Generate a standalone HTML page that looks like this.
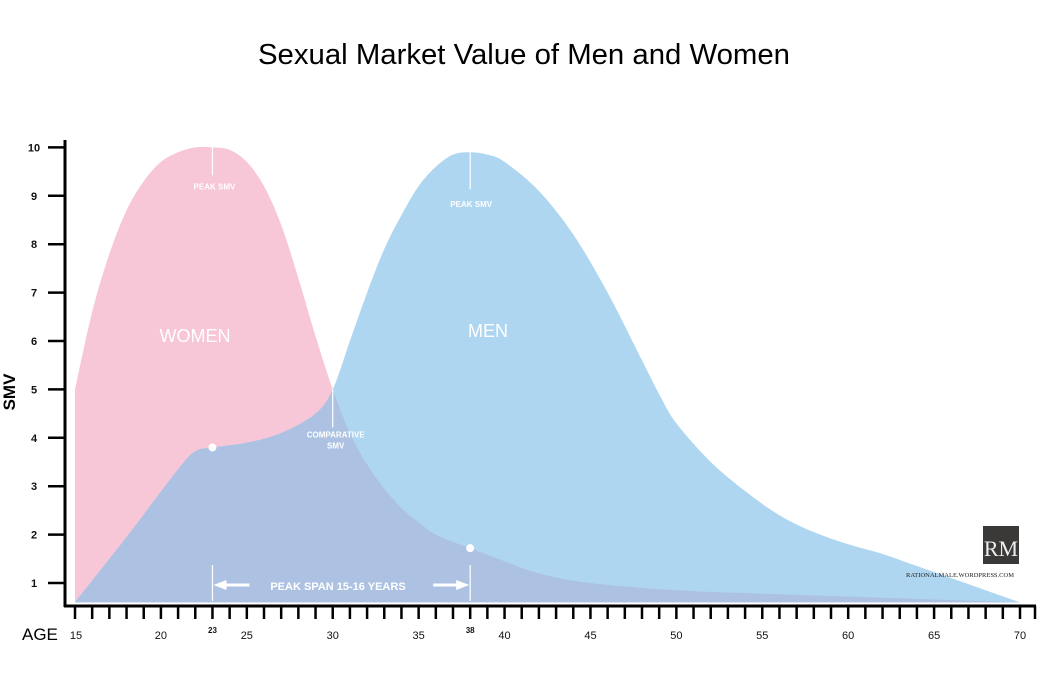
<!DOCTYPE html>
<html><head><meta charset="utf-8"><style>
html,body{margin:0;padding:0;background:#fff;}
svg{display:block;font-family:"Liberation Sans",Arial,sans-serif;}
</style></head><body>
<svg id="chart" width="1040" height="684" viewBox="0 0 1040 684">
<text x="524" y="64" text-anchor="middle" font-size="29" fill="#000" textLength="532" lengthAdjust="spacingAndGlyphs">Sexual Market Value of Men and Women</text>
<defs><clipPath id="menClip"><path id="menClipPath"/></clipPath></defs>
<g id="plot"></g>
<g id="axes"></g>
</svg>
<script>
const ages = [15,16,17,18,19,20,21,22,23,24,25,26,27,28,29,30,31,32,33,34,35,36,37,38,40,42,45,50,55,60,65,70];
const womenSMV = [5.0,6.6,7.8,8.7,9.3,9.7,9.9,10,10,9.95,9.7,9.2,8.4,7.3,6.1,5.0,4.1,3.45,2.95,2.55,2.25,2.0,1.85,1.72,1.45,1.2,1.0,0.85,0.78,0.72,0.66,0.6];
const menAges = [15,18,21,22,23,25,27,29,30,31,32,33,34,35,36,37,38,39,40,42,44,46,48,49,50,52,54,56,58,60,62,64,66,68,70];
const menSMV = [0.6,1.95,3.35,3.72,3.8,3.9,4.1,4.5,5.0,6.0,7.0,7.9,8.6,9.2,9.6,9.85,9.9,9.85,9.7,9.1,8.2,7.0,5.6,4.9,4.3,3.5,2.9,2.4,2.05,1.8,1.6,1.35,1.1,0.85,0.6];
const yTicks = [1,2,3,4,5,6,7,8,9,10];
const xLabels = [15,20,23,25,30,35,38,40,45,50,55,60,65,70];
const peakWomen = 23, peakMen = 38;
const base = 0.6;

const X = a => 75 + (a-15)*(945/55);
const Y = v => 583 - (v-1)*48.4;
const NS='http://www.w3.org/2000/svg';
function mk(t,at,parent){const e=document.createElementNS(NS,t);for(const k in at)e.setAttribute(k,at[k]);(parent||plot).appendChild(e);return e;}
const plot=document.getElementById('plot'), axes=document.getElementById('axes');

function smooth(xs,vs){
  const p=xs.map((a,i)=>[X(a),Y(vs[i])]);
  let d='M'+p[0][0]+','+p[0][1];
  for(let i=0;i<p.length-1;i++){
    const p0=p[Math.max(0,i-1)],p1=p[i],p2=p[i+1],p3=p[Math.min(p.length-1,i+2)];
    const c1=[p1[0]+(p2[0]-p0[0])/6,p1[1]+(p2[1]-p0[1])/6];
    const c2=[p2[0]-(p3[0]-p1[0])/6,p2[1]-(p3[1]-p1[1])/6];
    d+=` C${c1[0]},${c1[1]} ${c2[0]},${c2[1]} ${p2[0]},${p2[1]}`;
  }
  return d;
}
const wd='M'+X(15)+','+Y(base)+' L'+smooth(ages,womenSMV).slice(1)+' L'+X(70)+','+Y(base)+' Z';
const md=smooth(menAges,menSMV)+' L'+X(70)+','+Y(base)+' Z';
document.getElementById('menClipPath').setAttribute('d',md);

const w=mk('path',{d:wd,fill:'#f7c7d7'});


const m=mk('path',{d:md,fill:'#aed6f0'});


const o=mk('path',{d:wd,fill:'#adc2e2','clip-path':'url(#menClip)'});



const wi=ages.indexOf(peakWomen), mi=menAges.indexOf(peakMen);
mk('line',{x1:X(peakWomen),x2:X(peakWomen),y1:Y(womenSMV[wi]),y2:Y(womenSMV[wi])+28,stroke:'#fff','stroke-width':1.2});
const t1=mk('text',{x:X(peakWomen)+2,y:Y(womenSMV[wi])+42,'text-anchor':'middle','font-size':8,'font-weight':'bold',fill:'#fff'});t1.textContent='PEAK SMV';


mk('line',{x1:X(peakMen),x2:X(peakMen),y1:Y(menSMV[mi]),y2:Y(menSMV[mi])+37,stroke:'#fff','stroke-width':1.2});
const t2=mk('text',{x:X(peakMen)+1,y:Y(menSMV[mi])+55,'text-anchor':'middle','font-size':8,'font-weight':'bold',fill:'#fff'});t2.textContent='PEAK SMV';


mk('line',{x1:X(30),x2:X(30),y1:Y(5),y2:Y(5)+38,stroke:'#fff','stroke-width':1.2});
const t3=mk('text',{x:X(30)+3,y:Y(5)+48,'text-anchor':'middle','font-size':8,'font-weight':'bold',fill:'#fff'});t3.textContent='COMPARATIVE';


const t4=mk('text',{x:X(30)+3,y:Y(5)+59,'text-anchor':'middle','font-size':8,'font-weight':'bold',fill:'#fff'});t4.textContent='SMV';
const d1=mk('circle',{cx:X(peakWomen),cy:Y(menSMV[menAges.indexOf(peakWomen)]),r:4,fill:'#fff'});


const d2=mk('circle',{cx:X(peakMen),cy:Y(womenSMV[ages.indexOf(peakMen)]),r:4,fill:'#fff'});


mk('line',{x1:X(peakWomen),x2:X(peakWomen),y1:565,y2:601,stroke:'#fff','stroke-width':1.2});
mk('line',{x1:X(peakMen),x2:X(peakMen),y1:565,y2:601,stroke:'#fff','stroke-width':1.2});
mk('line',{x1:X(peakWomen)+8,x2:X(peakWomen)+37,y1:585,y2:585,stroke:'#fff','stroke-width':3});
mk('polygon',{points:`${X(peakWomen)+1},585 ${X(peakWomen)+14},580 ${X(peakWomen)+14},590`,fill:'#fff'});
mk('line',{x1:X(peakMen)-8,x2:X(peakMen)-37,y1:585,y2:585,stroke:'#fff','stroke-width':3});
mk('polygon',{points:`${X(peakMen)-1},585 ${X(peakMen)-14},580 ${X(peakMen)-14},590`,fill:'#fff'});
const t5=mk('text',{x:338,y:590,'text-anchor':'middle','font-size':11,'font-weight':'bold',fill:'#fff'});t5.textContent='PEAK SPAN 15-16 YEARS';


const t6=mk('text',{x:195,y:342,'text-anchor':'middle','font-size':18,fill:'#fff'});t6.textContent='WOMEN';


const t7=mk('text',{x:488,y:337,'text-anchor':'middle','font-size':18,fill:'#fff'});t7.textContent='MEN';



mk('line',{x1:65,x2:65,y1:140,y2:607,stroke:'#000','stroke-width':3},axes);
mk('line',{x1:64,x2:1036,y1:606,y2:606,stroke:'#000','stroke-width':3},axes);
yTicks.forEach(v=>{
  mk('line',{x1:48,x2:65,y1:Y(v),y2:Y(v),stroke:'#000','stroke-width':2.5},axes);
  const t=mk('text',{x:34,y:Y(v)+4,'text-anchor':'middle','font-size':11,'font-weight':'bold',fill:'#111'},axes);
  t.textContent=v;
  
  
});
for(let a=15;a<=70;a++){
  mk('line',{x1:X(a),x2:X(a),y1:606,y2:619,stroke:'#000','stroke-width':2.5},axes);
}
mk('line',{x1:1035,x2:1035,y1:606,y2:619,stroke:'#000','stroke-width':2.5},axes);
xLabels.forEach(a=>{
  const small=(a===peakWomen||a===peakMen);
  const t=mk('text',{x:X(a)+(a===15?1:0),y:small?633:639,'text-anchor':'middle','font-size':small?8:11,'font-weight':small?'bold':'normal',fill:'#111'},axes);
  t.textContent=a;
  
  
});
const ax=mk('text',{x:22,y:640,'font-size':17,fill:'#000'},axes);ax.textContent='AGE';


const ay=mk('text',{x:0,y:0,'font-size':17,'font-weight':'bold',fill:'#000',transform:'translate(15,392) rotate(-90)','text-anchor':'middle'},axes);ay.textContent='SMV';


const lg=mk('rect',{x:983,y:526,width:36,height:38,fill:'#3b3938'},axes);


const lt=mk('text',{x:1001,y:556,'text-anchor':'middle','font-size':22,'font-family':'Liberation Serif,serif',fill:'#eee'},axes);lt.textContent='RM';
const lu=mk('text',{x:960,y:577,'text-anchor':'middle','font-size':6.5,'font-family':'Liberation Serif,serif',fill:'#222'},axes);lu.textContent='RATIONALMALE.WORDPRESS.COM';


</script>
</body></html>
